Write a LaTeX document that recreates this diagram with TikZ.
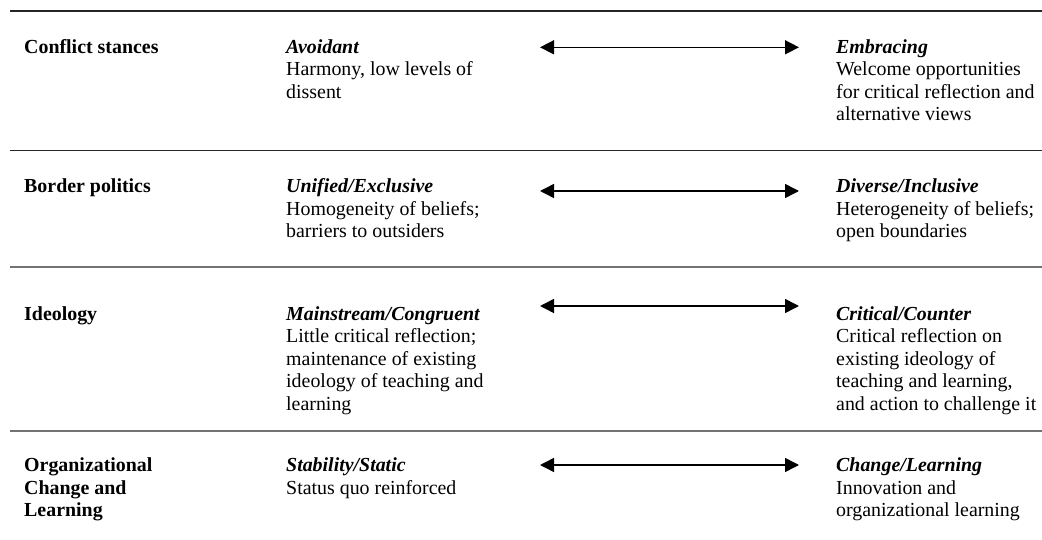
\documentclass[tikz,border=0pt]{standalone}
\usepackage{fontspec}
\setmainfont{Liberation Serif}
\usetikzlibrary{arrows.meta}
\newcommand{\mlines}[1]{\begin{tabular}[t]{@{}l@{}}#1\end{tabular}}
\begin{document}
\begin{tikzpicture}[x=1pt,y=1pt,
  txt/.style={anchor=base west,inner sep=0pt,
    font=\fontsize{19.9}{22.5}\selectfont},
  ttl/.style={txt,font=\fontsize{19.9}{22.5}\selectfont\bfseries},
  rule/.style={line width=1.3pt,color=black!55},
  toprule/.style={line width=1.2pt,color=black!85},
  dbl/.style={line width=1.5pt,{Triangle[length=14pt,width=14pt]}-{Triangle[length=14pt,width=14pt]}}]
\useasboundingbox (0,0) rectangle (1042,-540);
% rules
\coordinate (L0a) at (10,-11);   \coordinate (L0b) at (1042,-11);
\coordinate (L1a) at (10,-150.7);\coordinate (L1b) at (1042,-150.7);
\coordinate (L2a) at (10,-267);  \coordinate (L2b) at (1042,-267);
\coordinate (L3a) at (10,-431);  \coordinate (L3b) at (1042,-431);
\draw[toprule] (L0a) -- (L0b);
\draw[toprule] (L1a) -- (L1b);
\draw[rule] (L2a) -- (L2b);
\draw[rule] (L3a) -- (L3b);
% row 1
\node[ttl] (t1) at (24,-53.3) {Conflict stances};
\node[txt] (l1) at (286,-53.3) {\mlines{\textbf{\textit{Avoidant}}\\Harmony, low levels of\\dissent}};
\node[txt] (r1) at (836,-53.3) {\mlines{\textbf{\textit{Embracing}}\\Welcome opportunities\\for critical reflection and\\alternative views}};
\coordinate (a1l) at (540,-47.3); \coordinate (a1r) at (799,-47.3);
\draw[dbl] (a1l) -- (a1r);
% row 2
\node[ttl] (t2) at (24,-193) {Border politics};
\node[txt] (l2) at (286,-193) {\mlines{\textbf{\textit{Unified/Exclusive}}\\Homogeneity of beliefs;\\barriers to outsiders}};
\node[txt] (r2) at (836,-193) {\mlines{\textbf{\textit{Diverse/Inclusive}}\\Heterogeneity of beliefs;\\open boundaries}};
\coordinate (a2l) at (540,-191); \coordinate (a2r) at (799,-191);
\draw[dbl] (a2l) -- (a2r);
% row 3
\node[ttl] (t3) at (24,-320) {Ideology};
\node[txt] (l3) at (286,-320) {\mlines{\textbf{\textit{Mainstream/Congruent}}\\Little critical reflection;\\maintenance of existing\\ideology of teaching and\\learning}};
\node[txt] (r3) at (836,-320) {\mlines{\textbf{\textit{Critical/Counter}}\\Critical reflection on\\existing ideology of\\teaching and learning,\\and action to challenge it}};
\coordinate (a3l) at (540,-306); \coordinate (a3r) at (799,-306);
\draw[dbl] (a3l) -- (a3r);
% row 4
\node[ttl] (t4) at (24,-471.7) {\mlines{Organizational\\Change and\\Learning}};
\node[txt] (l4) at (286,-471.7) {\mlines{\textbf{\textit{Stability/Static}}\\Status quo reinforced}};
\node[txt] (r4) at (836,-471.7) {\mlines{\textbf{\textit{Change/Learning}}\\Innovation and\\organizational learning}};
\coordinate (a4l) at (540,-465); \coordinate (a4r) at (799,-465);
\draw[dbl] (a4l) -- (a4r);
\end{tikzpicture}
\end{document}
